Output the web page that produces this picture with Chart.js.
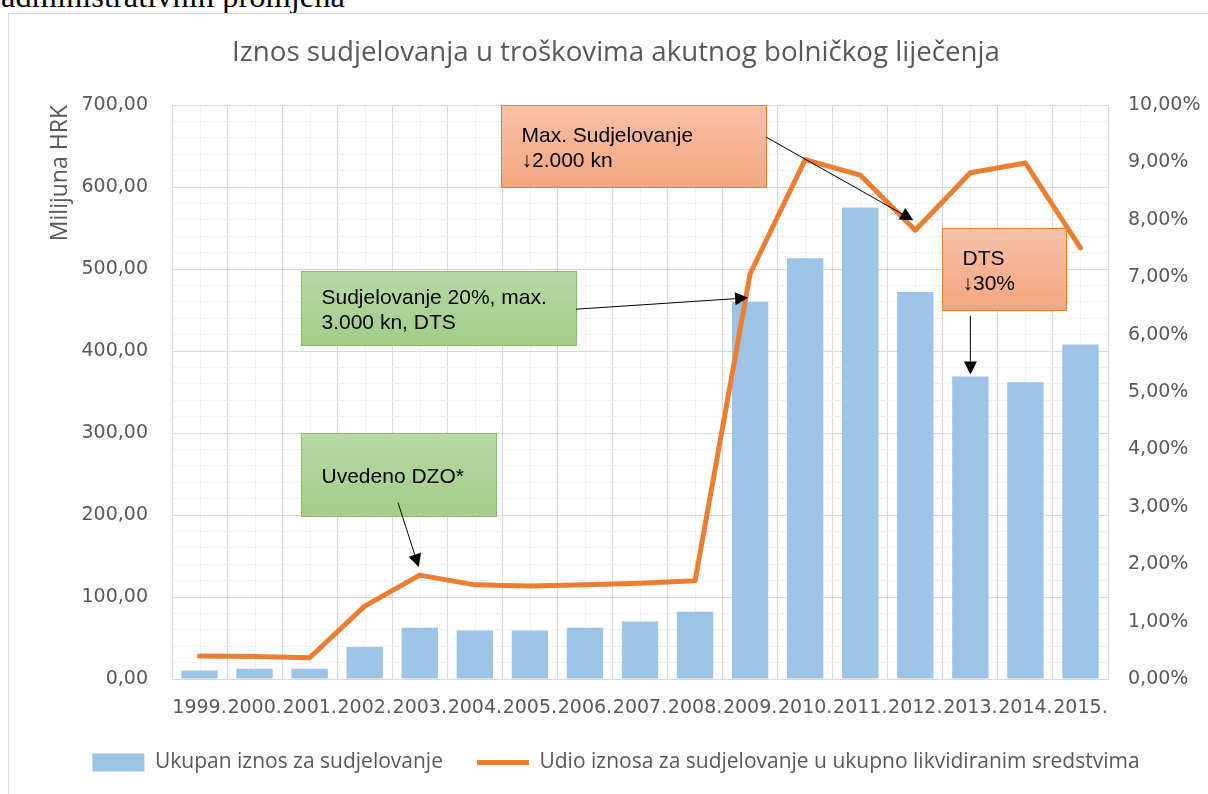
<!DOCTYPE html>
<html lang="hr">
<head>
<meta charset="utf-8">
<title>Iznos sudjelovanja u troškovima akutnog bolničkog liječenja</title>
<script src="https://cdn.jsdelivr.net/npm/chart.js@4.4.1/dist/chart.umd.min.js"></script>
<style>
  html, body { margin: 0; padding: 0; background: #fff; width: 1208px; height: 794px; overflow: hidden; }
  #caption { position: absolute; left: 1px; top: -20px; font: 32.5px/32px "Liberation Serif", "Times New Roman", serif; color: #000; white-space: nowrap; }
  #frame { position: absolute; left: 8px; top: 13px; width: 1214px; height: 800px; border: 1px solid #d9d9d9; }
  canvas { display: block; }
</style>
</head>
<body>
<div id="caption">administrativnih promjena</div>
<div id="frame"><canvas id="chart" width="1214" height="800"></canvas></div>
<script>
// Categories and series
const years = ['1999.', '2000.', '2001.', '2002.', '2003.', '2004.', '2005.', '2006.', '2007.', '2008.',
               '2009.', '2010.', '2011.', '2012.', '2013.', '2014.', '2015.'];
// Ukupan iznos za sudjelovanje (milijuna HRK)
const totalHRK = [10.5, 12.5, 12.5, 39, 62.5, 59, 59, 62.5, 70, 82,
                  460, 513, 575, 472, 369, 362, 408];
// Udio iznosa za sudjelovanje u ukupno likvidiranim sredstvima (%)
const sharePct = [0.40, 0.39, 0.37, 1.27, 1.81, 1.64, 1.62, 1.64, 1.67, 1.71,
                  7.06, 9.05, 8.78, 7.82, 8.82, 8.99, 7.51];
// Axis ticks
const hrkTicks = [0, 100, 200, 300, 400, 500, 600, 700];
const pctTicks = [0, 1, 2, 3, 4, 5, 6, 7, 8, 9, 10];

const seriesNames = ['Ukupan iznos za sudjelovanje', 'Udio iznosa za sudjelovanje u ukupno likvidiranim sredstvima'];

const fmt = v => v.toFixed(2).replace('.', ',');

// Callout boxes: x range in category units, y range in HRK units,
// arrow tail in (category, HRK), arrow head aimed at a data mark.
const callouts = [
  { lines: ['Uvedeno DZO*'], tone: 'green', xr: [1.843, 5.384], yr: [199, 300],
    tail: [3.605, 215], target: { series: 'share', index: 4 }, nudge: [-1, -8] },
  { lines: ['Sudjelovanje 20%, max.', '3.000 kn, DTS'], tone: 'green', xr: [1.843, 6.838], yr: [407, 497],
    tail: [6.838, 451], target: { series: 'total', index: 10 }, nudge: [-2, -4] },
  { lines: ['Max. Sudjelovanje', '\u21932.000 kn'], tone: 'orange', xr: [5.476, 10.288], yr: [600, 700],
    tail: [10.288, 661], target: { series: 'share', index: 13 }, nudge: [-2, -10] },
  { lines: ['DTS', '\u219330%'], tone: 'orange', xr: [13.485, 15.737], yr: [450, 550],
    tail: [14, 443], target: { series: 'total', index: 14 }, nudge: [0, -2] }
];

const tones = {
  green:  { top: '#b8d9a8', bottom: '#a2cc87', border: '#86bd66' },
  orange: { top: '#f8c1a7', bottom: '#f4a57f', border: '#ed7d31' }
};

function drawArrow(ctx, x0, y0, x1, y1) {
  const ang = Math.atan2(y1 - y0, x1 - x0);
  const L = 13, W = 6.5;
  const bx = x1 - L * Math.cos(ang), by = y1 - L * Math.sin(ang);
  ctx.beginPath();
  ctx.moveTo(x0, y0);
  ctx.lineTo(bx, by);
  ctx.stroke();
  ctx.beginPath();
  ctx.moveTo(x1, y1);
  ctx.lineTo(bx + W * Math.sin(ang), by - W * Math.cos(ang));
  ctx.lineTo(bx - W * Math.sin(ang), by + W * Math.cos(ang));
  ctx.closePath();
  ctx.fill();
}

const decorations = {
  id: 'decorations',
  // light gridlines through the middle of every category
  beforeDraw(chart) {
    const { ctx, chartArea: a, scales: { x } } = chart;
    ctx.save();
    ctx.strokeStyle = '#f2f2f2';
    ctx.lineWidth = 1;
    years.forEach((_, i) => {
      const px = Math.round(x.getPixelForValue(i)) + 0.5;
      ctx.beginPath();
      ctx.moveTo(px, a.top);
      ctx.lineTo(px, a.bottom);
      ctx.stroke();
    });
    ctx.restore();
  },
  afterDatasetsDraw(chart) {
    const { ctx, scales: { x, hrk, pct } } = chart;
    ctx.save();
    callouts.forEach(c => {
      const t = tones[c.tone];
      const left = Math.round(x.getPixelForValue(c.xr[0])) + 0.5;
      const right = Math.round(x.getPixelForValue(c.xr[1])) + 0.5;
      const top = Math.round(hrk.getPixelForValue(c.yr[1])) + 0.5;
      const bottom = Math.round(hrk.getPixelForValue(c.yr[0])) + 0.5;
      const g = ctx.createLinearGradient(0, top, 0, bottom);
      g.addColorStop(0, t.top);
      g.addColorStop(1, t.bottom);
      ctx.fillStyle = g;
      ctx.fillRect(left, top, right - left, bottom - top);
      ctx.strokeStyle = t.border;
      ctx.lineWidth = 1;
      ctx.strokeRect(left, top, right - left, bottom - top);

      ctx.fillStyle = '#000';
      ctx.font = '21px "Liberation Sans", Arial, sans-serif';
      ctx.textAlign = 'left';
      ctx.textBaseline = 'alphabetic';
      const cy = (top + bottom) / 2;
      const step = 25;
      c.lines.forEach((ln, k) => {
        ctx.fillText(ln, left + 20, cy - (c.lines.length - 1) * step / 2 + k * step + 7.5);
      });

      // arrow towards the data mark
      const i = c.target.index;
      const tx = x.getPixelForValue(i);
      const ty = c.target.series === 'share'
        ? pct.getPixelForValue(sharePct[i])
        : hrk.getPixelForValue(totalHRK[i]);
      const sx = x.getPixelForValue(c.tail[0]);
      const sy = hrk.getPixelForValue(c.tail[1]);
      ctx.strokeStyle = '#000';
      ctx.fillStyle = '#000';
      ctx.lineWidth = 1;
      drawArrow(ctx, sx, sy, tx + c.nudge[0], ty + c.nudge[1]);
    });
    ctx.restore();
  }
};

Chart.defaults.font.family = '"Open Sans", sans-serif';
Chart.defaults.color = '#595959';

const tickFont = { family: '"DejaVu Sans", sans-serif', size: 19 };

new Chart(document.getElementById('chart'), {
  data: {
    labels: years,
    datasets: [
      {
        type: 'bar',
        label: seriesNames[0],
        data: totalHRK,
        yAxisID: 'hrk',
        backgroundColor: '#9dc3e6',
        borderWidth: 0,
        categoryPercentage: 1,
        barPercentage: 0.66,
        order: 2
      },
      {
        type: 'line',
        label: seriesNames[1],
        data: sharePct,
        yAxisID: 'pct',
        borderColor: '#ed7d31',
        backgroundColor: '#ed7d31',
        borderWidth: 5,
        borderCapStyle: 'round',
        borderJoinStyle: 'round',
        pointRadius: 0,
        pointHoverRadius: 0,
        tension: 0,
        order: 1
      }
    ]
  },
  options: {
    responsive: false,
    animation: false,
    layout: { padding: { left: 0, right: 0, top: 0, bottom: 31 } },
    plugins: {
      tooltip: { enabled: false },
      title: {
        display: true,
        text: 'Iznos sudjelovanja u troškovima akutnog bolničkog liječenja',
        color: '#595959',
        font: { family: '"Open Sans", sans-serif', size: 27.7, weight: 'normal' },
        padding: { top: 22.4, bottom: 35.4 }
      },
      legend: {
        position: 'bottom',
        labels: {
          usePointStyle: true,
          pointStyleWidth: 52,
          boxHeight: 18,
          padding: 34,
          color: '#595959',
          font: { family: '"Open Sans", sans-serif', size: 21 },
          sort: (a, b) => a.datasetIndex - b.datasetIndex,
          generateLabels(chart) {
            const items = Chart.defaults.plugins.legend.labels.generateLabels(chart);
            items.forEach(it => {
              const ds = chart.data.datasets[it.datasetIndex];
              if (ds.type === 'line') {
                it.pointStyle = 'line';
                it.strokeStyle = ds.borderColor;
                it.lineWidth = 5;
              } else {
                it.pointStyle = 'rect';
                it.lineWidth = 0;
              }
            });
            return items;
          }
        }
      }
    },
    scales: {
      x: {
        grid: { color: '#d9d9d9', drawTicks: false, offset: true },
        border: { color: '#d9d9d9' },
        ticks: { font: tickFont, color: '#595959', padding: 18, maxRotation: 0, autoSkip: false },
        afterFit: s => { s.height = 39; }
      },
      hrk: {
        position: 'left',
        min: hrkTicks[0],
        max: hrkTicks[hrkTicks.length - 1],
        ticks: {
          stepSize: 20,
          autoSkip: false,
          padding: 24,
          font: tickFont,
          color: '#595959',
          callback: v => hrkTicks.includes(v) ? fmt(v) : ''
        },
        grid: {
          drawTicks: false,
          color: c => (c.tick && hrkTicks.includes(c.tick.value)) ? '#d9d9d9' : '#f2f2f2'
        },
        border: { color: '#d9d9d9' },
        title: {
          display: true,
          text: 'Milijuna HRK',
          align: 'end',
          color: '#595959',
          font: { family: '"Open Sans", sans-serif', size: 23 },
          padding: { top: 38, bottom: 0 }
        },
        afterFit: s => { s.width = 163; }
      },
      pct: {
        position: 'right',
        min: pctTicks[0],
        max: pctTicks[pctTicks.length - 1],
        ticks: {
          stepSize: 1,
          autoSkip: false,
          padding: 20,
          font: tickFont,
          color: '#595959',
          callback: v => fmt(v) + '%'
        },
        grid: { drawOnChartArea: false, drawTicks: false },
        border: { display: false },
        afterFit: s => { s.width = 115; }
      }
    }
  },
  plugins: [decorations]
});
</script>
</body>
</html>
